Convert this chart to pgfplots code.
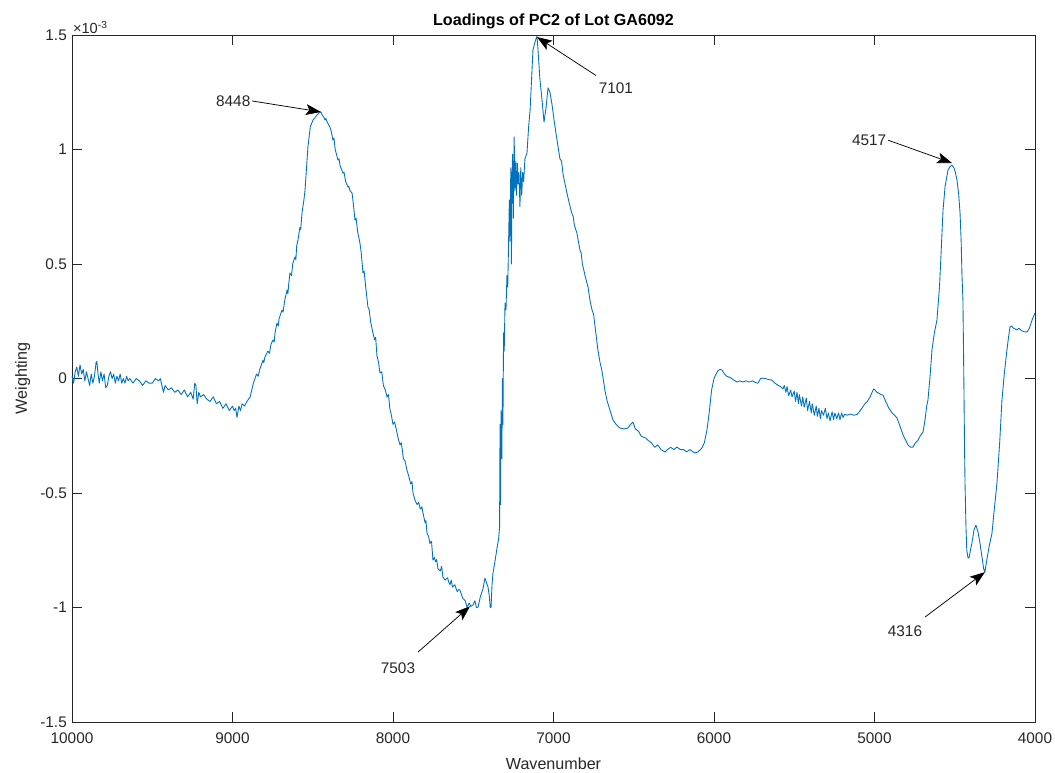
\documentclass[border=0pt]{standalone}
\usepackage{fontspec}
\setmainfont{Liberation Sans}
\usepackage{pgfplots}
\usepackage{pgfplotstable}
\pgfplotsset{compat=1.18}
\usetikzlibrary{arrows.meta}
\definecolor{mblue}{HTML}{0072BD}
\definecolor{axgray}{HTML}{262626}

% PC2 loadings, weighting in units of 1e-3
\pgfplotstableread{
w v
10000 0.01
9990 -0.02
9980 0.03
9970 0.05
9960 0.01
9950 0.06
9940 0.02
9930 0.04
9920 -0.01
9910 0.03
9900 0.00
9890 -0.03
9880 0.02
9870 -0.02
9860 0.01
9850 0.07
9845 0.075
9838 0.02
9830 -0.02
9820 0.03
9810 -0.01
9800 0.02
9790 -0.04
9780 -0.03
9770 0.01
9760 0.03
9750 0.00
9740 0.02
9730 -0.02
9720 0.01
9710 -0.01
9700 0.02
9690 -0.02
9680 0.00
9670 -0.02
9660 0.01
9650 -0.01
9640 0.00
9620 -0.02
9600 0.00
9580 -0.01
9560 -0.03
9540 -0.01
9520 -0.02
9500 -0.02
9480 0.00
9460 -0.01
9450 0.00
9440 -0.03
9430 -0.06
9420 -0.03
9400 -0.05
9380 -0.04
9360 -0.06
9340 -0.05
9320 -0.07
9300 -0.05
9280 -0.08
9260 -0.06
9245 -0.09
9235 -0.02
9228 -0.03
9220 -0.11
9210 -0.06
9200 -0.08
9180 -0.07
9160 -0.09
9140 -0.10
9120 -0.08
9100 -0.11
9080 -0.10
9060 -0.13
9040 -0.11
9020 -0.14
9000 -0.12
8990 -0.14
8980 -0.13
8972 -0.17
8960 -0.12
8950 -0.14
8940 -0.11
8925 -0.12
8910 -0.10
8890 -0.08
8870 -0.02
8850 0.02
8840 0.01
8830 0.04
8810 0.08
8805 0.07
8798 0.094
8780 0.12
8770 0.11
8760 0.15
8748 0.168
8740 0.16
8735 0.20
8723 0.242
8715 0.23
8710 0.26
8692 0.299
8685 0.29
8675 0.34
8660 0.387
8655 0.37
8650 0.41
8642 0.461
8632 0.45
8625 0.50
8611 0.531
8605 0.52
8600 0.58
8592 0.605
8580 0.66
8575 0.65
8567 0.723
8555 0.78
8548 0.823
8530 1.011
8515 1.10
8498 1.129
8485 1.14
8473 1.151
8460 1.16
8449 1.164
8440 1.15
8430 1.14
8424 1.129
8418 1.135
8410 1.12
8393 1.098
8385 1.08
8374 1.041
8368 1.05
8360 1.00
8343 0.954
8336 0.96
8330 0.93
8312 0.897
8305 0.90
8295 0.86
8280 0.836
8275 0.84
8268 0.82
8255 0.810
8245 0.75
8237 0.692
8230 0.70
8220 0.64
8206 0.592
8198 0.55
8187 0.461
8180 0.47
8170 0.40
8156 0.312
8148 0.30
8140 0.25
8125 0.199
8115 0.17
8108 0.18
8100 0.10
8090 0.07
8081 0.024
8070 0.03
8060 -0.03
8048 -0.05
8037 -0.081
8028 -0.07
8020 -0.13
8010 -0.16
8000 -0.20
7990 -0.19
7980 -0.22
7968 -0.26
7956 -0.29
7948 -0.28
7935 -0.35
7925 -0.36
7913 -0.40
7900 -0.43
7890 -0.46
7882 -0.45
7875 -0.50
7863 -0.531
7850 -0.55
7840 -0.54
7830 -0.57
7820 -0.56
7813 -0.587
7800 -0.63
7795 -0.62
7788 -0.675
7778 -0.69
7770 -0.72
7760 -0.71
7751 -0.793
7742 -0.78
7735 -0.80
7728 -0.79
7720 -0.83
7705 -0.84
7697 -0.82
7689 -0.867
7675 -0.88
7660 -0.87
7652 -0.89
7645 -0.90
7637 -0.88
7630 -0.91
7615 -0.90
7600 -0.93
7590 -0.92
7583 -0.924
7575 -0.94
7565 -0.96
7550 -0.97
7539 -0.998
7525 -0.98
7515 -0.995
7502 -0.989
7490 -0.97
7480 -1.00
7470 -0.998
7455 -0.95
7440 -0.92
7427 -0.871
7418 -0.89
7408 -0.910
7400 -0.95
7394 -1.00
7389 -0.998
7383 -0.90
7377 -0.849
7365 -0.80
7352 -0.740
7342 -0.70
7336 -0.65
7333 -0.20
7330 -0.55
7327 -0.14
7322 -0.35
7318 0.00
7315 -0.20
7311 0.20
7307 0.12
7302 0.33
7296 0.30
7290 0.45
7285 0.40
7280 0.59
7275 0.78
7271 0.60
7266 0.92
7262 0.50
7259 0.85
7255 0.98
7250 0.70
7245 1.055
7240 0.82
7235 0.95
7230 0.80
7225 0.94
7220 0.85
7215 0.90
7209 0.75
7204 0.92
7198 0.80
7192 0.90
7186 0.86
7178 0.96
7165 0.985
7155 1.10
7146 1.17
7137 1.30
7128 1.435
7115 1.47
7103 1.495
7097 1.44
7085 1.31
7072 1.22
7059 1.12
7047 1.18
7034 1.269
7022 1.25
7010 1.20
6995 1.12
6978 1.041
6960 0.96
6950 0.95
6940 0.89
6916 0.81
6900 0.76
6885 0.72
6878 0.71
6870 0.67
6854 0.635
6835 0.56
6828 0.55
6820 0.50
6800 0.44
6785 0.40
6773 0.343
6760 0.30
6750 0.28
6740 0.22
6723 0.124
6710 0.07
6700 0.04
6692 0.007
6680 -0.05
6665 -0.10
6648 -0.138
6630 -0.18
6610 -0.20
6586 -0.216
6560 -0.22
6536 -0.216
6520 -0.20
6505 -0.190
6490 -0.22
6470 -0.23
6455 -0.25
6443 -0.255
6425 -0.26
6410 -0.27
6390 -0.28
6370 -0.30
6350 -0.29
6330 -0.31
6305 -0.321
6290 -0.31
6270 -0.30
6250 -0.31
6231 -0.299
6210 -0.31
6190 -0.31
6170 -0.32
6150 -0.31
6130 -0.32
6119 -0.325
6100 -0.32
6085 -0.31
6075 -0.303
6060 -0.28
6044 -0.225
6030 -0.15
6015 -0.05
6000 0.00
5994 0.010
5975 0.035
5960 0.040
5950 0.037
5935 0.02
5920 0.01
5900 0.005
5880 -0.005
5857 -0.015
5840 -0.01
5820 -0.015
5800 -0.01
5780 -0.015
5760 -0.01
5740 -0.018
5726 -0.020
5710 0.00
5695 0.002
5680 0.00
5660 -0.004
5639 -0.007
5620 -0.02
5600 -0.03
5585 -0.035
5570 -0.045
5562 -0.03
5552 -0.06
5545 -0.035
5535 -0.075
5522 -0.05
5514 -0.08
5500 -0.055
5492 -0.10
5483 -0.06
5474 -0.11
5468 -0.07
5455 -0.12
5447 -0.08
5438 -0.125
5425 -0.085
5417 -0.14
5405 -0.10
5394 -0.15
5388 -0.11
5375 -0.16
5363 -0.12
5356 -0.165
5346 -0.13
5337 -0.175
5330 -0.14
5318 -0.16
5306 -0.13
5296 -0.175
5287 -0.15
5277 -0.185
5264 -0.145
5255 -0.18
5247 -0.15
5235 -0.175
5224 -0.15
5215 -0.18
5205 -0.15
5196 -0.17
5185 -0.155
5170 -0.16
5150 -0.155
5130 -0.16
5109 -0.157
5095 -0.145
5078 -0.129
5060 -0.11
5045 -0.10
5028 -0.081
5015 -0.06
5005 -0.045
4997 -0.05
4985 -0.06
4970 -0.065
4960 -0.07
4947 -0.072
4930 -0.10
4910 -0.13
4890 -0.15
4875 -0.16
4860 -0.172
4840 -0.21
4820 -0.25
4805 -0.27
4791 -0.290
4776 -0.30
4760 -0.299
4745 -0.28
4730 -0.27
4715 -0.25
4698 -0.234
4685 -0.18
4675 -0.12
4667 -0.094
4655 0.00
4642 0.124
4627 0.20
4611 0.255
4595 0.40
4585 0.55
4573 0.736
4560 0.84
4542 0.910
4530 0.925
4517 0.932
4505 0.92
4496 0.90
4486 0.867
4475 0.80
4467 0.723
4460 0.60
4455 0.45
4449 0.343
4445 0.10
4442 -0.094
4439 -0.30
4436 -0.456
4430 -0.65
4425 -0.75
4417 -0.784
4410 -0.78
4400 -0.74
4393 -0.718
4380 -0.66
4368 -0.640
4355 -0.67
4343 -0.718
4330 -0.78
4320 -0.83
4312 -0.845
4300 -0.79
4285 -0.73
4268 -0.675
4255 -0.58
4237 -0.456
4220 -0.28
4206 -0.094
4190 0.03
4175 0.124
4165 0.18
4156 0.225
4145 0.23
4135 0.22
4120 0.215
4112 0.212
4100 0.22
4085 0.21
4070 0.205
4050 0.203
4035 0.22
4019 0.254
4010 0.27
4000 0.286
}\loadings

\begin{document}
\begin{tikzpicture}
\begin{axis}[
    name=ax,
    scale only axis,
    width=231.1mm, height=164.9mm,
    x dir=reverse,
    xmin=4000, xmax=10000,
    ymin=-1.5, ymax=1.5,
    xtick={4000,5000,6000,7000,8000,9000,10000},
    ytick={-1.5,-1,-0.5,0,0.5,1,1.5},
    scaled x ticks=false,
    /pgf/number format/1000 sep={},
    /pgf/number format/assume math mode=true,
    tick align=inside,
    major tick length=2.4mm,
    axis line style={axgray, line width=0.6pt},
    every tick/.style={axgray, line width=0.6pt},
    ticklabel style={font=\fontsize{10.5}{12}\selectfont, text=axgray},
    xticklabel style={yshift=-1.4mm},
    xlabel={Wavenumber},
    ylabel={Weighting},
    label style={font=\fontsize{11}{13}\selectfont, text=axgray},
    xlabel style={yshift=-1mm},
    title={Loadings of PC2 of Lot GA6092},
    title style={font=\bfseries\fontsize{11}{13}\selectfont, text=black, yshift=-1.9mm},
    clip=false,
  ]
  \addplot[mblue, line width=0.6pt, line join=round] table[x=w, y=v] {\loadings};

  \node[anchor=south west, inner sep=0.5pt, text=axgray, font=\fontsize{10}{11}\selectfont]
    at (rel axis cs:0,1) {×10\textsuperscript{-3}};

  \tikzset{ann/.style={-{Stealth[length=3.6mm,width=2.6mm,inset=0.8mm]}, line width=0.5pt, black}}
  \tikzset{lab/.style={font=\fontsize{10.5}{12}\selectfont, text=axgray, inner sep=1pt}}
  \draw[ann] (axis cs:8878,1.212) -- (axis cs:8449,1.164);
  \node[lab, anchor=east] at (axis cs:8878,1.212) {8448};
  \draw[ann] (axis cs:6735,1.323) -- (axis cs:7103,1.491);
  \node[lab] at (axis cs:6611,1.269) {7101};
  \draw[ann] (axis cs:7844,-1.194) -- (axis cs:7520,-0.994);
  \node[lab] at (axis cs:7969,-1.264) {7503};
  \draw[ann] (axis cs:4916,1.041) -- (axis cs:4517,0.941);
  \node[lab, anchor=east] at (axis cs:4916,1.041) {4517};
  \draw[ann] (axis cs:4685,-1.041) -- (axis cs:4312,-0.845);
  \node[lab] at (axis cs:4810,-1.103) {4316};
\end{axis}
\pgfresetboundingbox
\path ([shift={(-17.28mm,-12mm)}]ax.south west) rectangle ([shift={(4.8mm,8.4mm)}]ax.north east);
\end{tikzpicture}
\end{document}
